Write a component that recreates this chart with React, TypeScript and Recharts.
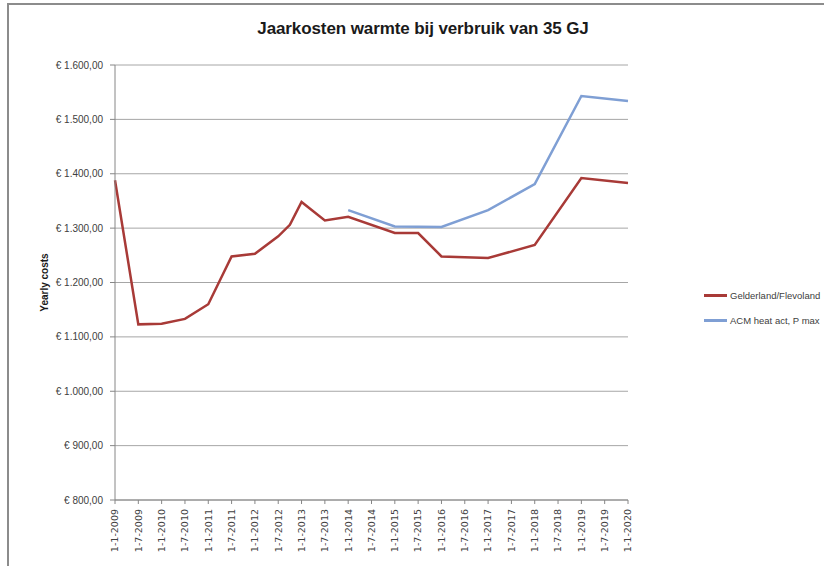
import { CartesianGrid, Legend, Line, LineChart, XAxis, YAxis } from 'recharts'

// Jaarkosten warmte (35 GJ): Gelderland/Flevoland vs. ACM maximumprijs.
// Values read off the original Excel chart, so roughly +/- 3 euro.
const TICK_LABELS = [
  '1-1-2009', '1-7-2009', '1-1-2010', '1-7-2010', '1-1-2011', '1-7-2011',
  '1-1-2012', '1-7-2012', '1-1-2013', '1-7-2013', '1-1-2014', '1-7-2014',
  '1-1-2015', '1-7-2015', '1-1-2016', '1-7-2016', '1-1-2017', '1-7-2017',
  '1-1-2018', '1-7-2018', '1-1-2019', '1-7-2019', '1-1-2020',
]
const Y_TICKS = [800, 900, 1000, 1100, 1200, 1300, 1400, 1500, 1600]

const GF_DATES = [
  '1-1-2009', '1-7-2009', '1-1-2010', '1-7-2010', '1-1-2011', '1-7-2011',
  '1-1-2012', '1-7-2012', '1-10-2012', '1-1-2013', '1-7-2013', '1-1-2014',
  '1-1-2015', '1-7-2015', '1-1-2016', '1-1-2017', '1-1-2018', '1-1-2019',
  '1-1-2020',
]
const GF_COSTS = [
  1388, 1123, 1124, 1133, 1160, 1248, 1253, 1285, 1306, 1348, 1314, 1321,
  1291, 1291, 1248, 1245, 1269, 1392, 1383,
]

const ACM_DATES = ['1-1-2014', '1-1-2015', '1-1-2016', '1-1-2017', '1-1-2018', '1-1-2019', '1-1-2020']
const ACM_COSTS = [1333, 1303, 1302, 1333, 1381, 1543, 1534]

const RED = '#a83a37'
const BLUE = '#7f9fd4'
const TEXT = '#404040'
const GRID = '#a6a6a6'
const FONT = "'Liberation Sans', Arial, sans-serif"

// months since jan 2009, so the odd 1-10-2012 point lands between ticks
const month = (d: string) => {
  const [, m, y] = d.split('-').map(Number)
  return (y - 2009) * 12 + (m - 1)
}

const gf = GF_DATES.map((d, i) => ({ m: month(d), cost: GF_COSTS[i] }))
const acm = ACM_DATES.map((d, i) => ({ m: month(d), cost: ACM_COSTS[i] }))
const xTicks = TICK_LABELS.map(month)
const labelOf = (m: number) => TICK_LABELS[xTicks.indexOf(m)] ?? ''

const euro = (v: number) => {
  const int = Math.floor(v).toString().replace(/\B(?=(\d{3})+(?!\d))/g, '.')
  return `€ ${int},00`
}

function XTick({ x, y, payload }: any) {
  return (
    <g transform={`translate(${x},${y})`}>
      <text transform="rotate(-90)" x={-3} dy="0.35em" textAnchor="end" fill={TEXT}
        fontSize={9.5} fontFamily="'DejaVu Sans', Verdana, sans-serif">
        {labelOf(payload.value)}
      </text>
    </g>
  )
}

function LegendBox() {
  const rows = [
    { name: 'Gelderland/Flevoland', color: RED },
    { name: 'ACM heat act, P max', color: BLUE },
  ]
  return (
    <div style={{ fontFamily: FONT, fontSize: 9.5, color: TEXT, whiteSpace: 'nowrap' }}>
      {rows.map((r) => (
        <div key={r.name} style={{ display: 'flex', alignItems: 'center', height: 25 }}>
          <span style={{ width: 23, height: 3, background: r.color, marginRight: 3, flex: 'none' }} />
          {r.name}
        </div>
      ))}
    </div>
  )
}

export default function App() {
  return (
    <div style={{ position: 'absolute', left: 0, top: 0, width: 824, height: 566, background: '#fff' }}>
      <div style={{
        position: 'absolute', left: 7, top: 3, right: 0, bottom: 0,
        borderTop: '2px solid #8c8c8c', borderLeft: '2px solid #8c8c8c',
      }} />
      <div style={{
        position: 'absolute', left: 0, width: 846, top: 19, textAlign: 'center',
        fontFamily: FONT, fontSize: 17, fontWeight: 700, color: '#1a1a1a', letterSpacing: -0.1,
      }}>
        Jaarkosten warmte bij verbruik van 35 GJ
      </div>
      <LineChart width={824} height={566} margin={{ top: 65, right: 196, bottom: 6, left: 35 }}
        style={{ position: 'absolute', left: 0, top: 0 }}>
        <CartesianGrid stroke={GRID} vertical={false} />
        <XAxis
          type="number"
          dataKey="m"
          domain={[0, 132]}
          ticks={xTicks}
          interval={0}
          tick={<XTick />}
          height={60}
          stroke="#868686"
          tickSize={4}
        />
        <YAxis
          type="number"
          domain={[800, 1600]}
          ticks={Y_TICKS}
          interval={0}
          tickFormatter={euro}
          width={80}
          stroke="#868686"
          tickSize={5}
          tickMargin={7}
          tick={{ fill: TEXT, fontSize: 10, fontFamily: FONT }}
          label={{
            value: 'Yearly costs', angle: -90, position: 'insideLeft', offset: 9,
            style: { textAnchor: 'middle', fill: '#1a1a1a', fontSize: 10, fontWeight: 700, fontFamily: FONT },
          }}
        />
        <Legend
          layout="vertical"
          align="center"
          verticalAlign="middle"
          content={<LegendBox />}
          wrapperStyle={{ left: 704, top: 283, width: 120 }}
        />
        <Line data={gf} dataKey="cost" name="Gelderland/Flevoland" stroke={RED} strokeWidth={2.5}
          dot={false} isAnimationActive={false} strokeLinejoin="miter" />
        <Line data={acm} dataKey="cost" name="ACM heat act, P max" stroke={BLUE} strokeWidth={2.5}
          dot={false} isAnimationActive={false} strokeLinejoin="miter" />
      </LineChart>
    </div>
  )
}
